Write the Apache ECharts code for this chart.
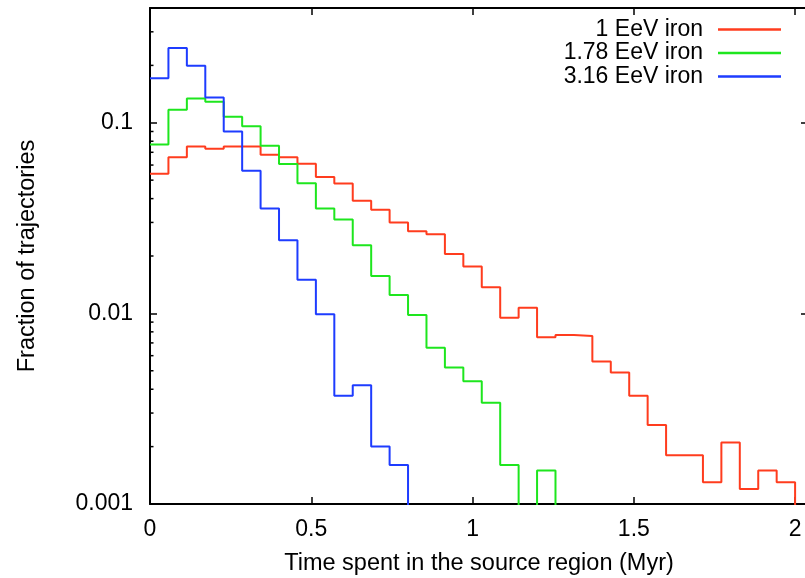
<!DOCTYPE html>
<html><head><meta charset="utf-8">
<script src="https://cdn.jsdelivr.net/npm/echarts@6/dist/echarts.min.js"></script>
<style>html,body{margin:0;padding:0;background:#fff}#c{width:805px;height:578px}</style>
</head><body><div id="c"></div>
<script>
// Histogram: 35 bins spanning 0..2 Myr
const binCount = 35;
const xRangeMyr = 2;
const seriesNames = ['1 EeV iron', '1.78 EeV iron', '3.16 EeV iron'];
const iron1 = [0.054, 0.066, 0.075, 0.073, 0.075, 0.075, 0.068, 0.066, 0.061, 0.052,
  0.048, 0.039, 0.035, 0.030, 0.027, 0.026, 0.0205, 0.0176, 0.0137, 0.0095,
  0.0107, 0.0075, 0.0077, 0.0076, 0.0056, 0.0049, 0.0037, 0.0026, 0.0018, 0.0018,
  0.0013, 0.0021, 0.0012, 0.0015, 0.0013];
const iron178 = [0.077, 0.117, 0.134, 0.129, 0.1075, 0.096, 0.0757, 0.0607, 0.0481, 0.0355,
  0.0311, 0.0228, 0.0157, 0.0125, 0.0098, 0.0066, 0.0052, 0.0044, 0.0034, 0.0016,
  0, 0.0015, 0, 0, 0, 0, 0, 0, 0, 0,
  0, 0, 0, 0, 0];
const iron316 = [0.171, 0.247, 0.199, 0.1357, 0.090, 0.056, 0.0355, 0.0242, 0.0150, 0.0099,
  0.0037, 0.0042, 0.0020, 0.0016, 0, 0, 0, 0, 0, 0,
  0, 0, 0, 0, 0, 0, 0, 0, 0, 0,
  0, 0, 0, 0, 0];
const xTickLabels = [0, 0.5, 1, 1.5, 2];
const yTickLabels = [0.001, 0.01, 0.1];
const yMinorTicks = [0.002, 0.003, 0.004, 0.005, 0.006, 0.007, 0.008, 0.009,
  0.02, 0.03, 0.04, 0.05, 0.06, 0.07, 0.08, 0.09, 0.2, 0.3];

const colors = ['#ff3c1e', '#1ee61e', '#1e3cff'];
const FONT = "'Liberation Sans', Arial, Helvetica, sans-serif";
const X_MIN = 0, X_MAX = 2.04, Y_MIN = 0.001, Y_MAX = 0.4;
const FLOOR = 1e-6; // empty bins drop below the axis (clipped)
const binWidth = xRangeMyr / binCount;

function stepData(vals) {
  const d = vals.map((v, i) => [i * binWidth, v > 0 ? v : FLOOR]);
  d.push([vals.length * binWidth, FLOOR]);
  return d;
}
function xFmt(v) {
  return xTickLabels.some(t => Math.abs(t - v) < 1e-9) ? String(v) : '';
}
function yFmt(v) {
  const t = yTickLabels.find(t => Math.abs(Math.log10(t) - Math.log10(v)) < 1e-6);
  return t === undefined ? '' : String(t);
}

const chart = echarts.init(document.getElementById('c'), null, {renderer: 'canvas'});
const axisLine = {show: true, onZero: false, lineStyle: {color: '#000', width: 2}};
const tick = {show: true, inside: true, length: 7, lineStyle: {color: '#000', width: 1.5}};

const lineSeries = [iron1, iron178, iron316].map((vals, i) => ({
  name: seriesNames[i], type: 'line', step: 'end', symbol: 'none', clip: true,
  xAxisIndex: 0, yAxisIndex: 0,
  lineStyle: {color: colors[i], width: 2}, itemStyle: {color: colors[i]},
  data: stepData(vals), z: 3 + i
}));

const legendTops = [13, 36.5, 60];
const legends = seriesNames.map((n, i) => ({
  data: [n], right: 19, top: legendTops[i], orient: 'vertical', align: 'right',
  icon: 'rect', itemWidth: 63, itemHeight: 2.5, selectedMode: false,
  textStyle: {fontFamily: FONT, fontSize: 23, color: '#000', padding: [0, 10, 0, 0]}
}));

chart.setOption({
  animation: false,
  backgroundColor: '#fff',
  grid: {left: 150, width: 658, top: 8, height: 496, containLabel: false, outerBoundsMode: 'none'},
  legend: legends,
  xAxis: [{
    type: 'value', min: X_MIN, max: X_MAX, interval: 0.5, position: 'bottom',
    axisLine: axisLine, axisTick: tick, splitLine: {show: false},
    axisLabel: {formatter: xFmt, fontFamily: FONT, fontSize: 23, color: '#000', margin: 14},
    name: 'Time spent in the source region (Myr)', nameLocation: 'middle', nameGap: 48,
    nameTextStyle: {fontFamily: FONT, fontSize: 23.5, color: '#000'}
  }, {
    type: 'value', min: X_MIN, max: X_MAX, interval: 0.5, position: 'top',
    axisLine: axisLine, axisTick: tick, splitLine: {show: false}, axisLabel: {show: false}
  }],
  yAxis: [{
    type: 'log', logBase: 10, min: Y_MIN, max: Y_MAX, position: 'left',
    axisLine: axisLine, axisTick: tick, splitLine: {show: false}, minorTick: {show: false},
    axisLabel: {formatter: yFmt, fontFamily: FONT, fontSize: 23, color: '#000', margin: 17},
    name: 'Fraction of trajectories', nameLocation: 'middle', nameGap: 110,
    nameTextStyle: {fontFamily: FONT, fontSize: 23.5, color: '#000'}
  }, {
    type: 'log', logBase: 10, min: Y_MIN, max: Y_MAX, position: 'right',
    axisLine: axisLine, axisTick: tick, splitLine: {show: false}, axisLabel: {show: false}
  }],
  series: lineSeries.concat([{
    type: 'custom', xAxisIndex: 0, yAxisIndex: 0, silent: true, clip: false, z: 10,
    data: yMinorTicks.map(v => [X_MIN, v]), encode: {x: 0, y: 1},
    renderItem: (params, api) => {
      const v = api.value(1);
      const l = api.coord([X_MIN, v]);
      const r = api.coord([X_MAX, v]);
      return {type: 'group', children: [
        {type: 'line', shape: {x1: l[0], y1: l[1], x2: l[0] + 3.5, y2: l[1]}, style: {stroke: '#000', lineWidth: 1.5}},
        {type: 'line', shape: {x1: r[0] - 3, y1: r[1], x2: r[0], y2: r[1]}, style: {stroke: '#000', lineWidth: 1.5}}
      ]};
    }
  }])
});
</script></body></html>
